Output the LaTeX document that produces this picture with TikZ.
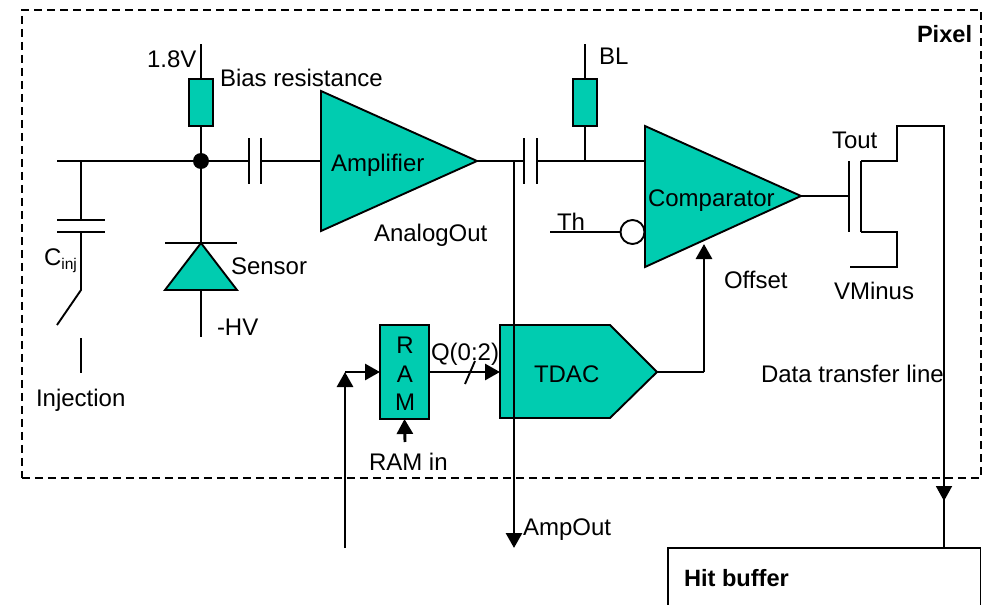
\documentclass[tikz,border=0pt]{standalone}
\usepackage{fontspec}
\setmainfont{Liberation Sans}
\usetikzlibrary{arrows.meta}
\definecolor{teal1}{HTML}{00CCB0}
\tikzset{
  wire/.style={draw=black,line width=1.9pt,line cap=butt,line join=miter},
  bus/.style={draw=black,line width=2.9pt},
  blockfill/.style={draw=black,line width=1.9pt,fill=teal1,line join=miter},
  res/.style={blockfill,rectangle,minimum width=24pt,minimum height=47pt,inner sep=0pt,outer sep=0pt},
  lbl/.style={anchor=base west,inner sep=0pt,outer sep=0pt,font=\fontsize{24}{26}\selectfont},
  blbl/.style={lbl,font=\fontsize{23.6}{26}\selectfont\bfseries},
  arr/.style={-{Triangle[length=15pt,width=16pt]}}
}
\begin{document}
\begin{tikzpicture}[x=1pt,y=-1pt]
\useasboundingbox (0,0) rectangle (989,605);
% frame
\node[draw=black,line width=1.9pt,dash pattern=on 8pt off 5pt,rectangle,minimum width=959pt,minimum height=468pt,inner sep=0pt,anchor=north west] (pixel) at (21,9) {};
% coordinates
\coordinate (vdd) at (201,44);
\coordinate (nodeL) at (57,161);
\coordinate (injT) at (81,161);
\coordinate (j1) at (201,161);
\coordinate (c1a) at (249,161);
\coordinate (c1b) at (261,161);
\coordinate (ampIn) at (321,161);
\coordinate (ampTip) at (477,161);
\coordinate (ampTap) at (514,161);
\coordinate (c2a) at (524,161);
\coordinate (c2b) at (537,161);
\coordinate (blTap) at (585,161);
\coordinate (blTop) at (585,44);
\coordinate (cmpIn) at (645,161);
\coordinate (cmpTip) at (801,196);
\coordinate (gate) at (849,196);
\coordinate (ampEnd) at (514,548);
\coordinate (thL) at (550,232);
\coordinate (cmpOff) at (704,244);
\coordinate (tdacTip) at (657,372);
\coordinate (corner) at (704,372);
\coordinate (ramInL) at (345,372);
\coordinate (ramStart) at (345,548);
\coordinate (ramInB) at (405,442);
\coordinate (hitIn) at (944,548);
% wires behind shapes
\draw[wire] (nodeL) -- (c1a);
\draw[wire] (c1b) -- (ampIn);
\draw[wire] (ampTip) -- (c2a);
\draw[wire] (c2b) -- (cmpIn);
\draw[wire] (blTop) -- (blTap);
\draw[wire] (vdd) -- (j1);
\draw[wire] (cmpTip) -- (gate);
\draw[wire] (thL) -- (620,232);
% capacitors
\draw[wire] (249,138) -- (249,184) (261,138) -- (261,184);
\draw[wire] (524,138) -- (524,184) (537,138) -- (537,184);
% resistors
\node[res,anchor=north] (rbias) at (201,79) {};
\node[res,anchor=north] (rbl) at (585,79) {};
% junction
\node[circle,fill=black,minimum size=16pt,inner sep=0pt] (dot) at (j1) {};
% amplifier
\draw[blockfill] (321,91) -- (ampTip) -- (321,231) -- cycle;
\node[lbl] (amplabel) at (331,171) {Amplifier};
% comparator
\draw[blockfill] (645,126) -- (cmpTip) -- (645,267) -- cycle;
\node[lbl] (cmplabel) at (648,206) {Comparator};
\node[circle,draw=black,line width=1.9pt,fill=white,minimum size=24pt,inner sep=0pt] (bubble) at (632.5,232) {};
% injection
\draw[wire] (injT) -- (81,220);
\draw[wire] (57,220) -- (105,220) (57,232) -- (105,232);
\draw[wire] (81,232) -- (81,290) -- (57,325);
\draw[wire] (81,338) -- (81,373);
% sensor
\draw[wire] (dot) -- (201,243);
\draw[blockfill] (201,243) -- (237,290) -- (165,290) -- cycle;
\draw[wire] (165,243) -- (237,243);
\draw[wire] (201,290) -- (201,337);
% RAM & TDAC
\node[blockfill,rectangle,minimum width=49pt,minimum height=94pt,inner sep=0pt,outer sep=0pt,anchor=north west] (ram) at (380,325) {};
\draw[blockfill] (500,325) -- (610,325) -- (tdacTip) -- (610,418) -- (500,418) -- cycle;
\coordinate (tdacIn) at (500,372);
\draw[bus,arr] (ram.east |- tdacIn) -- (tdacIn);
\draw[wire] (465,384) -- (475,361);
\draw[bus,arr] (ramStart) -- (ramInL);
\draw[bus,arr] (ramInL) -- (ram.west |- ramInL);
\draw[bus,arr] (ramInB) -- (ram.south);
\draw[wire] (tdacTip) -- (corner);
\draw[bus,arr] (corner) -- (cmpOff);
% AmpOut
\draw[bus,arr] (ampTap) -- (ampEnd);
% transistor
\draw[wire] (849,161) -- (849,232);
\draw[wire] (861,161) -- (861,232);
\draw[wire] (861,161) -- (897,161) -- (897,126) -- (944,126) -- (hitIn);
\draw[wire,arr] (944,400) -- (944,501);
\draw[wire] (861,232) -- (897,232) -- (897,267) -- (850,267);
% hit buffer
\draw[wire] (668,606) -- (668,548) -- (980.5,548) -- (980.5,606);
\node[blbl] (hit) at (684,586) {Hit buffer};
% labels
\node[lbl] (l1) at (147,67) {1.8V};
\node[lbl] (l2) at (220,86) {Bias resistance};
\node[lbl] (l3) at (374,241) {AnalogOut};
\node[lbl] (l4) at (599,64) {BL};
\node[blbl] (l5) at (917,42) {Pixel};
\node[lbl] (l6) at (832,148) {Tout};
\node[lbl] (l7) at (557,230) {Th};
\node[lbl] (l8) at (724,288) {Offset};
\node[lbl] (l9) at (834,299) {VMinus};
\node[lbl] (l10) at (231,274) {Sensor};
\node[lbl] (l11) at (44,265) {C\raisebox{-4pt}{\fontsize{15.5}{17}\selectfont inj}};
\node[lbl] (l12) at (217,335) {-HV};
\node[lbl] (l13) at (36,406) {Injection};
\node[lbl,anchor=base] (r1) at (405,353) {R};
\node[lbl,anchor=base] (r2) at (405,382) {A};
\node[lbl,anchor=base] (r3) at (405,410) {M};
\node[lbl] (l14) at (431,360) {Q(0:2)};
\node[lbl] (l15) at (534,382) {TDAC};
\node[lbl] (l16) at (369,470) {RAM in};
\node[lbl] (l17) at (523,535) {AmpOut};
\node[lbl] (l18) at (761,382) {Data transfer line};
\end{tikzpicture}
\end{document}
